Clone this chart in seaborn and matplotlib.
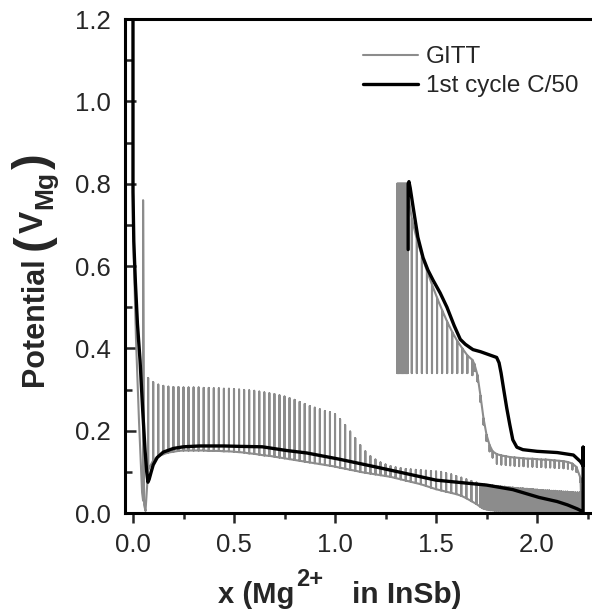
import numpy as np
import pandas as pd
import matplotlib
matplotlib.use('Agg')
import matplotlib.pyplot as plt
from matplotlib.ticker import MultipleLocator, FormatStrFormatter
from matplotlib.transforms import IdentityTransform
import seaborn as sns

sns.set_style('white')
plt.rcParams['font.family'] = ['Liberation Sans', 'DejaVu Sans']

# ---- 1st cycle C/50 ----
cyc_x = [0.000, 0.000, 0.004, 0.012, 0.022, 0.035, 0.048, 0.060, 0.068, 0.074, 0.080, 0.090,
         0.100, 0.120, 0.150, 0.200, 0.250, 0.330, 0.450, 0.530, 0.640, 0.760, 0.860, 1.020,
         1.240, 1.500, 1.750, 1.880, 2.010, 2.100, 2.150, 2.200, 2.228,
         2.228, 2.228, 2.215, 2.180, 2.100, 2.000, 1.930, 1.900, 1.880, 1.865, 1.850, 1.835,
         1.822, 1.812, 1.800, 1.760, 1.720, 1.683, 1.668, 1.645, 1.620, 1.590, 1.554, 1.520,
         1.486, 1.460, 1.436, 1.410, 1.386, 1.372, 1.366, 1.362, 1.362]
cyc_y = [1.250, 0.780, 0.660, 0.560, 0.460, 0.370, 0.250, 0.150, 0.100, 0.075, 0.082, 0.100,
         0.117, 0.135, 0.148, 0.157, 0.161, 0.163, 0.163, 0.162, 0.161, 0.152, 0.146, 0.131,
         0.108, 0.080, 0.068, 0.057, 0.038, 0.028, 0.020, 0.010, 0.003,
         0.160, 0.115, 0.125, 0.141, 0.147, 0.150, 0.154, 0.160, 0.178, 0.215, 0.255, 0.300,
         0.340, 0.365, 0.378, 0.385, 0.392, 0.397, 0.402, 0.410, 0.422, 0.455, 0.500, 0.535,
         0.565, 0.590, 0.620, 0.670, 0.745, 0.790, 0.805, 0.800, 0.640]

# ---- GITT: first pulse, then relaxation spikes ----
gitt_head_x = [0.000, 0.004, 0.015, 0.030, 0.045, 0.050, 0.050, 0.055, 0.062]
gitt_head_y = [0.800, 0.620, 0.420, 0.220, 0.050, 0.030, 0.760, 0.020, 0.005]

# discharge spikes: position, relaxed (top) and loaded (bottom) potential
dis_x = [0.075, 0.100, 0.125, 0.150, 0.175, 0.200, 0.225, 0.250, 0.275, 0.300, 0.325,
         0.350, 0.375, 0.400, 0.425, 0.450, 0.475, 0.500, 0.525, 0.550, 0.575, 0.600,
         0.625, 0.650, 0.675, 0.700, 0.725, 0.750, 0.775, 0.800, 0.825, 0.850, 0.875,
         0.900, 0.925, 0.950, 0.975, 1.000, 1.025, 1.050, 1.075, 1.100, 1.125, 1.150,
         1.175, 1.200, 1.225, 1.250, 1.275, 1.300, 1.325, 1.350, 1.375, 1.400, 1.425,
         1.450, 1.475, 1.500, 1.525, 1.550, 1.575, 1.600, 1.625, 1.650, 1.675, 1.700]
dis_top = [0.328, 0.318, 0.312, 0.309, 0.307, 0.306, 0.306, 0.305, 0.305, 0.305, 0.305,
           0.304, 0.304, 0.303, 0.303, 0.302, 0.302, 0.301, 0.300, 0.299, 0.298, 0.297,
           0.295, 0.293, 0.291, 0.289, 0.286, 0.283, 0.279, 0.275, 0.270, 0.265, 0.260,
           0.256, 0.252, 0.248, 0.245, 0.240, 0.228, 0.214, 0.198, 0.182, 0.165, 0.150,
           0.138, 0.130, 0.123, 0.118, 0.114, 0.111, 0.109, 0.107, 0.106, 0.105, 0.104,
           0.103, 0.102, 0.101, 0.100, 0.097, 0.094, 0.090, 0.086, 0.082, 0.078, 0.074]
dis_bot = [0.105, 0.128, 0.138, 0.143, 0.147, 0.149, 0.151, 0.152, 0.152, 0.152, 0.152,
           0.152, 0.151, 0.151, 0.151, 0.150, 0.150, 0.149, 0.148, 0.147, 0.145, 0.144,
           0.142, 0.140, 0.139, 0.137, 0.135, 0.133, 0.131, 0.129, 0.127, 0.125, 0.123,
           0.121, 0.119, 0.117, 0.115, 0.113, 0.110, 0.108, 0.105, 0.103, 0.100, 0.098,
           0.096, 0.094, 0.092, 0.090, 0.088, 0.085, 0.082, 0.079, 0.076, 0.073, 0.070,
           0.066, 0.062, 0.058, 0.055, 0.052, 0.049, 0.046, 0.042, 0.036, 0.029, 0.022]

# end of discharge: dense pulses
band_x = [1.72, 1.73, 1.74, 1.75, 1.76, 1.77, 1.78, 1.79, 1.80, 1.81,
          1.82, 1.83, 1.84, 1.85, 1.86, 1.87, 1.88, 1.89, 1.90, 1.91,
          1.92, 1.93, 1.94, 1.95, 1.96, 1.97, 1.98, 1.99, 2.00, 2.01,
          2.02, 2.03, 2.04, 2.05, 2.06, 2.07, 2.08, 2.09, 2.10, 2.11,
          2.12, 2.13, 2.14, 2.15, 2.16, 2.17, 2.18, 2.19, 2.20, 2.21, 2.22]
band_top = [0.070, 0.069, 0.069, 0.068, 0.068, 0.067, 0.067, 0.066, 0.066, 0.065,
            0.065, 0.064, 0.064, 0.063, 0.063, 0.062, 0.062, 0.061, 0.061, 0.060,
            0.060, 0.060, 0.059, 0.059, 0.058, 0.058, 0.058, 0.057, 0.057, 0.056,
            0.056, 0.056, 0.055, 0.055, 0.055, 0.054, 0.054, 0.054, 0.053, 0.053,
            0.053, 0.052, 0.052, 0.052, 0.051, 0.051, 0.051, 0.050, 0.050, 0.050, 0.050]
band_bot = [0.015, 0.012, 0.010, 0.009, 0.008, 0.007, 0.007, 0.006, 0.006, 0.006,
            0.006, 0.006, 0.005, 0.005, 0.005, 0.005, 0.005, 0.005, 0.005, 0.005,
            0.005, 0.005, 0.005, 0.005, 0.005, 0.005, 0.005, 0.005, 0.005, 0.005,
            0.005, 0.004, 0.004, 0.004, 0.004, 0.004, 0.004, 0.004, 0.004, 0.004,
            0.004, 0.004, 0.004, 0.004, 0.004, 0.004, 0.004, 0.004, 0.004, 0.004, 0.004]

# charge spikes (x going back down): loaded (top) and relaxed (bottom)
chg_x = [2.215, 2.195, 2.175, 2.153, 2.131, 2.109, 2.087, 2.065, 2.043, 2.021, 1.999,
         1.977, 1.955, 1.933, 1.911, 1.889, 1.867, 1.845, 1.823, 1.801, 1.780, 1.765,
         1.750, 1.735, 1.720, 1.705, 1.690, 1.680, 1.655, 1.630, 1.605, 1.580, 1.555,
         1.530, 1.505, 1.480, 1.455, 1.430, 1.405, 1.380, 1.360, 1.356, 1.352, 1.348,
         1.344, 1.340, 1.336, 1.332, 1.328, 1.324, 1.320, 1.316, 1.312, 1.308]
chg_top = [0.085, 0.112, 0.120, 0.124, 0.126, 0.127, 0.128, 0.129, 0.130, 0.130, 0.131,
           0.132, 0.132, 0.133, 0.134, 0.135, 0.136, 0.138, 0.140, 0.143, 0.150, 0.165,
           0.190, 0.230, 0.285, 0.335, 0.362, 0.372, 0.383, 0.400, 0.418, 0.440, 0.465,
           0.493, 0.523, 0.555, 0.588, 0.625, 0.665, 0.715, 0.780, 0.800, 0.800, 0.800,
           0.800, 0.800, 0.800, 0.800, 0.800, 0.800, 0.800, 0.800, 0.800, 0.800]
chg_bot = [0.075, 0.100, 0.106, 0.108, 0.109, 0.110, 0.110, 0.111, 0.111, 0.112, 0.112,
           0.113, 0.113, 0.114, 0.114, 0.115, 0.116, 0.117, 0.118, 0.120, 0.135, 0.150,
           0.175, 0.215, 0.270, 0.320, 0.345, 0.335, 0.340, 0.340, 0.340, 0.340, 0.340,
           0.340, 0.340, 0.340, 0.340, 0.340, 0.340, 0.340, 0.340, 0.340, 0.340, 0.340,
           0.340, 0.340, 0.340, 0.340, 0.340, 0.340, 0.340, 0.340, 0.340, 0.340]


def spikes(xs, a, b):
    # each pulse: a -> b -> a at the same x
    px, py = [], []
    for x, u, v in zip(xs, a, b):
        px += [x, x, x]
        py += [u, v, u]
    return px, py


gx, gy = list(gitt_head_x), list(gitt_head_y)
for xs, a, b in [(dis_x, dis_bot, dis_top), (band_x, band_bot, band_top), (chg_x, chg_top, chg_bot)]:
    px, py = spikes(xs, a, b)
    gx += px
    gy += py

gitt_df = pd.DataFrame({'x': gx, 'y': gy})
cyc_df = pd.DataFrame({'x': cyc_x, 'y': cyc_y})

W, H = 592, 613
fig = plt.figure(figsize=(W / 100, H / 100), dpi=100)
ax = fig.add_axes([0.211, 0.163, 0.789, 0.806])

sns.lineplot(data=gitt_df, x='x', y='y', sort=False, estimator=None,
             color='#8c8c8c', lw=1.5, label='GITT', ax=ax)
sns.lineplot(data=cyc_df, x='x', y='y', sort=False, estimator=None,
             color='black', lw=2.4, label='1st cycle C/50', ax=ax)

ax.set_xlim(-0.04, 2.272)
ax.set_ylim(0, 1.2)
ax.xaxis.set_major_locator(MultipleLocator(0.5))
ax.xaxis.set_minor_locator(MultipleLocator(0.25))
ax.yaxis.set_major_locator(MultipleLocator(0.2))
ax.yaxis.set_minor_locator(MultipleLocator(0.1))
ax.xaxis.set_major_formatter(FormatStrFormatter('%.1f'))
ax.yaxis.set_major_formatter(FormatStrFormatter('%.1f'))

for side in ['left', 'top', 'bottom']:
    ax.spines[side].set_linewidth(2.2)
    ax.spines[side].set_color('black')
ax.spines['right'].set_visible(False)

ax.tick_params(axis='x', which='major', direction='out', length=7, width=1.8, labelsize=18.5, pad=7)
ax.tick_params(axis='x', which='minor', direction='out', length=4, width=1.8)
ax.tick_params(axis='y', which='major', direction='in', length=8, width=1.8, labelsize=18.5, pad=10)
ax.tick_params(axis='y', which='minor', direction='in', length=5, width=1.8)
ax.tick_params(bottom=True, left=True, top=False, right=False, which='both')
ax.set_xlabel('')
ax.set_ylabel('')

ax.legend(frameon=False, loc='upper left', bbox_to_anchor=(0.488, 0.965), fontsize=17.5,
          handlelength=2.3, handletextpad=0.3, labelspacing=0.3, borderaxespad=0)

# axis titles built from pieces so the superscript / big brackets look like the original
fig.canvas.draw()
renderer = fig.canvas.get_renderer()
px_tr = IdentityTransform()

# x title: pixel positions measured from the top of the picture
fig.text(294, H - 603, 'x (Mg', ha='right', va='baseline', fontsize=21,
         fontweight='bold', transform=px_tr)
fig.text(296, H - 586, '2+', ha='left', va='baseline', fontsize=17,
         fontweight='bold', transform=px_tr)
fig.text(352, H - 603, 'in InSb)', ha='left', va='baseline', fontsize=21.5,
         fontweight='bold', transform=px_tr)

# y title, stacked upward from the bottom
y_pieces = [('Potential', 22, 0, 7), ('(', 34, 3, 2), ('V', 24, 0, 1), ('Mg', 19, 9, 2), (')', 34, 3, 0)]
ypos = H - 386
base_x = 43
for txt, size, shift, gap in y_pieces:
    t = fig.text(base_x + shift, ypos, txt, rotation=90, rotation_mode='anchor',
                 ha='left', va='baseline', fontsize=size, fontweight='bold', transform=px_tr)
    bb = t.get_window_extent(renderer)
    ypos += bb.height + gap

plt.savefig('out.png', dpi=100)
